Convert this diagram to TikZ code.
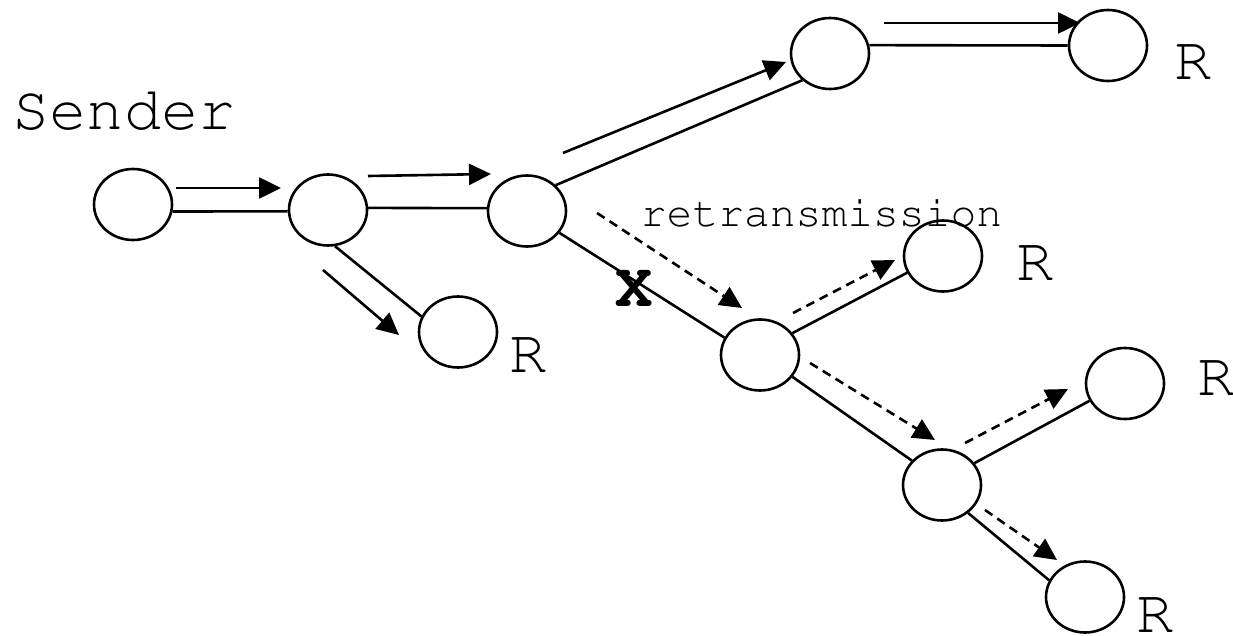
\documentclass[tikz,border=0pt]{standalone}
\usepackage[T1]{fontenc}
\usetikzlibrary{arrows.meta,shapes.geometric}
\newcommand\courtext{\fontencoding{T1}\fontfamily{pcr}\selectfont}
\begin{document}
\begin{tikzpicture}[x=1pt,y=-1pt,
  hop/.style={ellipse,draw,line width=2.6pt,minimum width=78pt,minimum height=71pt,inner sep=0pt},
  link/.style={line width=2.6pt},
  flow/.style={line width=2.6pt,-{Triangle[length=22pt,width=21pt]}},
  reflow/.style={flow,dash pattern=on 9pt off 6pt},
  biglabel/.style={font=\courtext\fontsize{62}{62}\selectfont,inner sep=0pt,anchor=base},
  smalllabel/.style={font=\courtext\fontsize{43}{43}\selectfont,inner sep=0pt,anchor=base}]
\useasboundingbox (0,0) rectangle (1233,636);

% routers and receivers
\node[hop] (S)   at (133,204.5) {};
\node[hop] (n1)  at (328,210) {};
\node[hop] (n2)  at (527,211) {};
\node[hop] (n3)  at (830,53.5) {};
\node[hop] (n4)  at (1108,45.5) {};
\node[hop] (rl)  at (458,332) {};
\node[hop] (n5)  at (760,355) {};
\node[hop] (rm)  at (943,256) {};
\node[hop] (n6)  at (942,485) {};
\node[hop] (rr1) at (1125,383.5) {};
\node[hop] (rr2) at (1085,597) {};

% tree links
\draw[link] (S.-10) -- (n1.182);
\draw[link] (n1.3) -- (n2.176);
\draw[link] (n1.-79) -- (rl.157);
\draw[link] (n2.42) -- (n3.224);
\draw[link] (n3.12) -- (n4.180);
\draw[link] (n2.-34) -- (n5.154);
\draw[link] (n5.34) -- (rm.205);
\draw[link] (n5.-34) -- (n6.141);
\draw[link] (n6.34) -- (rr1.206);
\draw[link] (n6.-47) -- (rr2.155);

% original transmission
\coordinate (a1s) at (176,188);  \coordinate (a1e) at (281,188);
\coordinate (a2s) at (368,176);  \coordinate (a2e) at (491,174);
\coordinate (a3s) at (323,270);  \coordinate (a3e) at (399,335);
\coordinate (a4s) at (563,153);  \coordinate (a4e) at (786,62);
\coordinate (a5s) at (884,23);   \coordinate (a5e) at (1080,23);
\draw[flow] (a1s) -- (a1e);
\draw[flow] (a2s) -- (a2e);
\draw[flow] (a3s) -- (a3e);
\draw[flow] (a4s) -- (a4e);
\draw[flow] (a5s) -- (a5e);

% retransmitted packets
\coordinate (b1s) at (597,213);  \coordinate (b1e) at (742,308);
\coordinate (b2s) at (793,313);  \coordinate (b2e) at (895,260);
\coordinate (b3s) at (810,363);  \coordinate (b3e) at (935,440);
\coordinate (b4s) at (965,443);  \coordinate (b4e) at (1068,389);
\coordinate (b5s) at (985,510);  \coordinate (b5e) at (1057,560);
\draw[reflow] (b1s) -- (b1e);
\draw[reflow] (b2s) -- (b2e);
\draw[reflow] (b3s) -- (b3e);
\draw[reflow] (b4s) -- (b4e);
\draw[reflow] (b5s) -- (b5e);

% labels
\node[biglabel] (sender) at (124,130) {Sender};
\node[biglabel] (lrl)  at (528.5,372) {R};
\node[biglabel] (ln4)  at (1193.5,80) {R};
\node[biglabel] (lrm)  at (1035,280) {R};
\node[biglabel] (lrr1) at (1216,395) {R};
\node[biglabel] (lrr2) at (1155.5,632) {R};
\node[biglabel,font=\courtext\bfseries\fontsize{62}{62}\selectfont] (loss) at (634.5,306) {X};
\node[smalllabel] (retx) at (821.5,227) {retransmission};
\end{tikzpicture}
\end{document}
